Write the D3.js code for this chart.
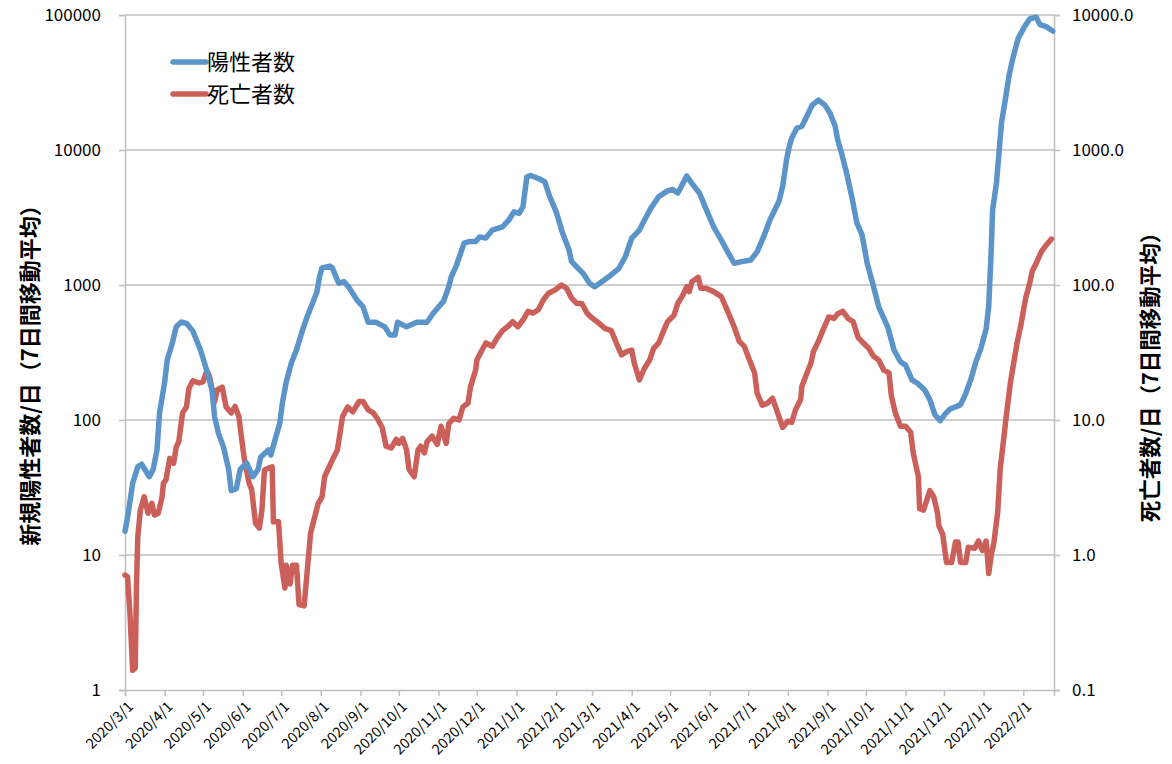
<!DOCTYPE html>
<html><head><meta charset="utf-8">
<script src="https://cdn.jsdelivr.net/npm/d3@7/dist/d3.min.js"></script>
<style>body{margin:0;background:#fff} svg{display:block}</style>
</head><body>
<svg id="c" width="1172" height="764"></svg>
<script>
// ---- data (7-day moving averages) ----
const caseDates = [
"2020-03-01","2020-03-03","2020-03-07","2020-03-11","2020-03-14","2020-03-20","2020-03-23","2020-03-26","2020-03-28",
"2020-04-01","2020-04-03","2020-04-07","2020-04-10","2020-04-14","2020-04-18","2020-04-23","2020-04-29",
"2020-05-03","2020-05-08","2020-05-10","2020-05-13","2020-05-17","2020-05-21","2020-05-23","2020-05-27","2020-05-30",
"2020-06-04","2020-06-09","2020-06-13","2020-06-15","2020-06-21","2020-06-23","2020-06-26","2020-06-30",
"2020-07-02","2020-07-05","2020-07-09","2020-07-13","2020-07-17","2020-07-21","2020-07-25","2020-07-29","2020-07-31",
"2020-08-02","2020-08-08","2020-08-10","2020-08-15","2020-08-19","2020-08-23","2020-08-29",
"2020-09-03","2020-09-07","2020-09-13","2020-09-20","2020-09-24","2020-09-28","2020-09-30",
"2020-10-07","2020-10-15","2020-10-23","2020-10-28",
"2020-11-05","2020-11-09","2020-11-11","2020-11-15","2020-11-21","2020-11-25","2020-11-30",
"2020-12-03","2020-12-08","2020-12-13","2020-12-21","2020-12-26","2020-12-30",
"2021-01-03","2021-01-06","2021-01-09","2021-01-12","2021-01-19","2021-01-23","2021-01-27",
"2021-02-01","2021-02-06","2021-02-11","2021-02-13","2021-02-18","2021-02-22","2021-02-27",
"2021-03-03","2021-03-07","2021-03-14","2021-03-22","2021-03-27",
"2021-04-01","2021-04-07","2021-04-11","2021-04-16","2021-04-22","2021-04-29",
"2021-05-03","2021-05-07","2021-05-11","2021-05-14","2021-05-18","2021-05-24","2021-05-30",
"2021-06-04","2021-06-10","2021-06-15","2021-06-20","2021-06-26",
"2021-07-03","2021-07-08","2021-07-13","2021-07-18","2021-07-25","2021-07-28","2021-07-31",
"2021-08-02","2021-08-04","2021-08-08","2021-08-12","2021-08-17","2021-08-20","2021-08-25","2021-08-30",
"2021-09-03","2021-09-07","2021-09-09","2021-09-12","2021-09-16","2021-09-20","2021-09-24","2021-09-28",
"2021-10-02","2021-10-07","2021-10-11","2021-10-18","2021-10-23","2021-10-28",
"2021-11-01","2021-11-06","2021-11-11","2021-11-16","2021-11-20","2021-11-24","2021-11-28",
"2021-12-02","2021-12-06","2021-12-10","2021-12-14","2021-12-18","2021-12-22","2021-12-26","2021-12-30",
"2022-01-03","2022-01-05","2022-01-07","2022-01-08","2022-01-11","2022-01-13","2022-01-15","2022-01-18","2022-01-21","2022-01-24","2022-01-28",
"2022-02-02","2022-02-06","2022-02-11","2022-02-14","2022-02-19","2022-02-24"];
const caseValues = [
15,19,34,45,47,38,43,60,113,
191,278,372,490,532,520,456,330,
248,167,106,80,63,43,30,31,43,
48,38,43,53,60,55,70,95,
134,191,264,330,440,570,710,890,1150,
1340,1380,1340,1030,1060,960,780,
690,530,530,490,427,427,530,
490,530,530,620,
760,970,1150,1400,2040,2100,2100,
2270,2230,2550,2700,3030,3480,
3400,3790,6300,6470,6100,5820,4500,
3480,2420,1820,1490,1330,1220,1030,
970,1030,1150,1330,1620,
2220,2550,3030,3710,4500,4980,
5100,4800,5660,6420,5660,4780,3480,
2700,2150,1760,1450,1490,
1530,1760,2270,3030,4150,5400,8500,
10500,12200,14500,15000,18700,21500,23400,21500,
18700,15000,11860,9450,6700,4500,2870,2350,
1450,970,690,490,330,270,
255,198,185,167,141,109,99,
111,121,125,130,157,200,270,342,
475,700,1870,3580,5650,9500,16000,23750,36200,48500,67200,
82000,93400,96500,85000,82000,76000];

const deathDates = [
"2020-03-01","2020-03-03","2020-03-05","2020-03-07","2020-03-09","2020-03-10","2020-03-11","2020-03-13","2020-03-16","2020-03-19","2020-03-22","2020-03-24","2020-03-27","2020-03-30","2020-03-31",
"2020-04-02","2020-04-05","2020-04-08","2020-04-10","2020-04-12","2020-04-15","2020-04-18","2020-04-20","2020-04-23","2020-04-28",
"2020-05-01","2020-05-04","2020-05-06","2020-05-10","2020-05-12","2020-05-16","2020-05-19","2020-05-23","2020-05-26","2020-05-29",
"2020-06-02","2020-06-06","2020-06-08","2020-06-11","2020-06-14","2020-06-16","2020-06-18","2020-06-21","2020-06-24","2020-06-25","2020-06-29",
"2020-07-01","2020-07-04","2020-07-05","2020-07-08","2020-07-10","2020-07-13","2020-07-15","2020-07-19","2020-07-21","2020-07-24","2020-07-26","2020-07-30",
"2020-08-02","2020-08-04","2020-08-10","2020-08-14","2020-08-18","2020-08-22","2020-08-26","2020-08-31",
"2020-09-03","2020-09-07","2020-09-11","2020-09-14","2020-09-18","2020-09-21","2020-09-25","2020-09-29",
"2020-10-01","2020-10-04","2020-10-07","2020-10-09","2020-10-13","2020-10-16","2020-10-18","2020-10-21","2020-10-23","2020-10-27","2020-10-31",
"2020-11-03","2020-11-07","2020-11-09","2020-11-13","2020-11-17","2020-11-20","2020-11-24","2020-11-26","2020-11-30",
"2020-12-01","2020-12-05","2020-12-08","2020-12-13","2020-12-17","2020-12-21","2020-12-25","2020-12-29",
"2021-01-02","2021-01-06","2021-01-10","2021-01-14","2021-01-18","2021-01-22","2021-01-26","2021-01-31",
"2021-02-05","2021-02-09","2021-02-13","2021-02-17","2021-02-21","2021-02-25","2021-02-28",
"2021-03-05","2021-03-11","2021-03-16","2021-03-20","2021-03-24","2021-03-28",
"2021-04-01","2021-04-03","2021-04-07","2021-04-11","2021-04-15","2021-04-18","2021-04-22","2021-04-26","2021-04-29",
"2021-05-04","2021-05-07","2021-05-11","2021-05-14","2021-05-16","2021-05-18","2021-05-23","2021-05-25","2021-05-29",
"2021-06-04","2021-06-10","2021-06-15","2021-06-20","2021-06-24","2021-06-28",
"2021-07-02","2021-07-06","2021-07-08","2021-07-12","2021-07-16","2021-07-20","2021-07-24","2021-07-28",
"2021-08-01","2021-08-04","2021-08-07","2021-08-11","2021-08-12","2021-08-16","2021-08-19","2021-08-21","2021-08-25","2021-08-29",
"2021-09-02","2021-09-06","2021-09-09","2021-09-13","2021-09-17","2021-09-21","2021-09-25","2021-09-29",
"2021-10-03","2021-10-07","2021-10-11","2021-10-15","2021-10-19","2021-10-21","2021-10-24","2021-10-28",
"2021-11-01","2021-11-05","2021-11-07","2021-11-11","2021-11-12","2021-11-15","2021-11-20","2021-11-23","2021-11-26","2021-11-27","2021-11-30",
"2021-12-03","2021-12-07","2021-12-10","2021-12-12","2021-12-14","2021-12-18","2021-12-20","2021-12-25","2021-12-28","2021-12-31",
"2022-01-03","2022-01-05","2022-01-07","2022-01-09","2022-01-12","2022-01-14","2022-01-17","2022-01-19","2022-01-22","2022-01-24","2022-01-27","2022-01-30",
"2022-02-03","2022-02-06","2022-02-08","2022-02-11","2022-02-15","2022-02-19","2022-02-23"];
const deathValues = [
0.71,0.69,0.35,0.14,0.145,0.62,1.37,2.15,2.7,2.04,2.41,1.98,2.04,2.7,3.4,
3.6,5.2,4.77,6.3,6.9,11.3,12.5,17.2,19.5,18.8,
19.2,23.2,21.1,13.7,16.7,17.5,12.5,11.3,12.6,10.6,
5.3,3.4,3.05,1.72,1.58,2.15,4.27,4.4,4.5,1.76,1.76,
0.87,0.57,0.84,0.61,0.84,0.84,0.43,0.42,0.69,1.45,1.72,2.41,
2.7,3.8,5.05,6.0,10.6,12.5,11.5,13.7,
13.7,11.9,11.3,10.3,8.8,6.4,6.2,7.2,
6.7,7.3,6.0,4.3,3.8,6.0,6.4,5.7,6.9,7.6,6.6,
9.0,6.7,9.4,10.3,10.0,12.5,13.3,17.6,23.4,
27.8,33,37.2,35.1,40.7,45.9,49.1,53.5,
49.1,55,63.8,62,65.6,77.7,87,91.7,
100,94.5,80,73,73,62,58,
53.5,47.7,45.9,37.2,30.4,32.1,
33,26.3,19.8,24.2,27.8,33.8,37.2,45.9,53.5,
59.6,73,84.3,97.2,89.3,105.8,114,94.5,94.5,
89.3,82,63.8,49.1,38.3,35.1,
27.8,22.4,15.8,12.9,13.3,14.5,11.3,8.8,
9.8,9.6,11.9,14.2,17.8,22.4,26.3,32.1,38.5,47.7,
58,56.5,61.2,63.8,56.5,53.5,40.7,37.2,
34.2,29.6,27.8,23.4,22.4,14.9,11.3,9.0,
9.0,8.1,5.7,3.8,2.2,2.15,3.0,2.7,2.04,1.65,1.43,
0.88,0.88,1.25,1.25,0.88,0.88,1.14,1.12,1.27,1.08,
1.27,0.73,1.0,1.23,2.08,4.4,7.7,11.3,19.1,24.7,36.6,50,
81,103,127,144,176,198,219];

const monthTicks = ["2020-03-01","2020-04-01","2020-05-01","2020-06-01","2020-07-01","2020-08-01","2020-09-01","2020-10-01","2020-11-01","2020-12-01",
"2021-01-01","2021-02-01","2021-03-01","2021-04-01","2021-05-01","2021-06-01","2021-07-01","2021-08-01","2021-09-01","2021-10-01","2021-11-01","2021-12-01",
"2022-01-01","2022-02-01"];
const monthLabels = ["2020/3/1","2020/4/1","2020/5/1","2020/6/1","2020/7/1","2020/8/1","2020/9/1","2020/10/1","2020/11/1","2020/12/1",
"2021/1/1","2021/2/1","2021/3/1","2021/4/1","2021/5/1","2021/6/1","2021/7/1","2021/8/1","2021/9/1","2021/10/1","2021/11/1","2021/12/1",
"2022/1/1","2022/2/1"];
const leftTicks = [1,10,100,1000,10000,100000];
const leftLabels = ["1","10","100","1000","10000","100000"];
const rightTicks = [0.1,1,10,100,1000,10000];
const rightLabels = ["0.1","1.0","10.0","100.0","1000.0","10000.0"];
const seriesNames = ["陽性者数","死亡者数"];
const leftTitle = "新規陽性者数/日（7日間移動平均）";
const rightTitle = "死亡者数/日（7日間移動平均）";

// ---- drawing ----
const parse = d3.timeParse("%Y-%m-%d");
const L = 125, R = 1054, T = 15, B = 690;
const FONT = "'Noto Sans CJK JP','Noto Sans',sans-serif";
const BLUE = "#5b94c9", RED = "#cb605b", GRID = "#bfbfbf";

const svg = d3.select("#c");
const x = d3.scaleTime().domain([parse("2020-03-01"), parse("2022-02-25")]).range([L, R]);
const yL = d3.scaleLog().domain([1, 100000]).range([B, T]);
const yR = d3.scaleLog().domain([0.1, 10000]).range([B, T]);

// gridlines
svg.append("g").selectAll("line").data(leftTicks.slice(1)).join("line")
  .attr("x1", L).attr("x2", R).attr("y1", d => yL(d)).attr("y2", d => yL(d))
  .attr("stroke", GRID).attr("stroke-width", 1.5);

// left axis
const gl = svg.append("g").attr("transform", `translate(${L},0)`)
  .call(d3.axisLeft(yL).tickValues(leftTicks).tickFormat((d,i)=>leftLabels[i]).tickSize(6).tickPadding(18));
// right axis
const gr = svg.append("g").attr("transform", `translate(${R},0)`)
  .call(d3.axisRight(yR).tickValues(rightTicks).tickFormat((d,i)=>rightLabels[i]).tickSize(6).tickPadding(12));
// bottom axis
const gb = svg.append("g").attr("transform", `translate(0,${B})`)
  .call(d3.axisBottom(x).tickValues(monthTicks.map(parse)).tickFormat((d,i)=>monthLabels[i]).tickSize(6));

[gl, gr, gb].forEach(g => {
  g.attr("font-family", null).attr("font-size", null);
  g.select(".domain").attr("stroke", GRID).attr("stroke-width", 1.5);
  g.selectAll(".tick line").attr("stroke", GRID).attr("stroke-width", 1.5);
  g.selectAll("text").attr("fill", "#000").style("font-family", FONT);
});
gl.selectAll("text").style("font-size", "17px");
gr.selectAll("text").style("font-size", "17px");
gb.selectAll("text").attr("font-size", 14.5).style("font-size", "14.5px")
  .attr("text-anchor", "end").attr("y", 0).attr("x", 0).attr("dy", "0.35em")
  .attr("transform", "translate(5,14) rotate(-45)");

// lines
const lineC = d3.line().x(d => x(d[0])).y(d => yL(d[1]));
const lineD = d3.line().x(d => x(d[0])).y(d => yR(d[1]));
const casePts = caseDates.map((d,i) => [parse(d), caseValues[i]]);
const deathPts = deathDates.map((d,i) => [parse(d), deathValues[i]]);

svg.append("path").datum(deathPts).attr("d", lineD).attr("fill","none")
  .attr("stroke", RED).attr("stroke-width", 5.5).attr("stroke-linejoin","round").attr("stroke-linecap","round");
svg.append("path").datum(casePts).attr("d", lineC).attr("fill","none")
  .attr("stroke", BLUE).attr("stroke-width", 5.5).attr("stroke-linejoin","round").attr("stroke-linecap","round");

// legend
const leg = svg.append("g");
[BLUE, RED].forEach((c, i) => {
  const yy = 62 + i * 32;
  leg.append("line").attr("x1", 173).attr("x2", 206).attr("y1", yy).attr("y2", yy)
    .attr("stroke", c).attr("stroke-width", 5.5).attr("stroke-linecap","round");
  leg.append("text").attr("x", 207).attr("y", yy).attr("dy", "0.36em")
    .style("font-family", FONT).style("font-size", "22px").attr("fill", "#000").text(seriesNames[i]);
});

// axis titles
svg.append("text").attr("transform", "translate(30,370) rotate(-90)")
  .attr("text-anchor", "middle").attr("dy", "0.36em")
  .style("font-family", FONT).style("font-size", "22px").style("font-weight", "bold").text(leftTitle);
svg.append("text").attr("transform", "translate(1150,372) rotate(-90)")
  .attr("text-anchor", "middle").attr("dy", "0.36em")
  .style("font-family", FONT).style("font-size", "21.5px").style("font-weight", "bold").text(rightTitle);
</script>
</body></html>
